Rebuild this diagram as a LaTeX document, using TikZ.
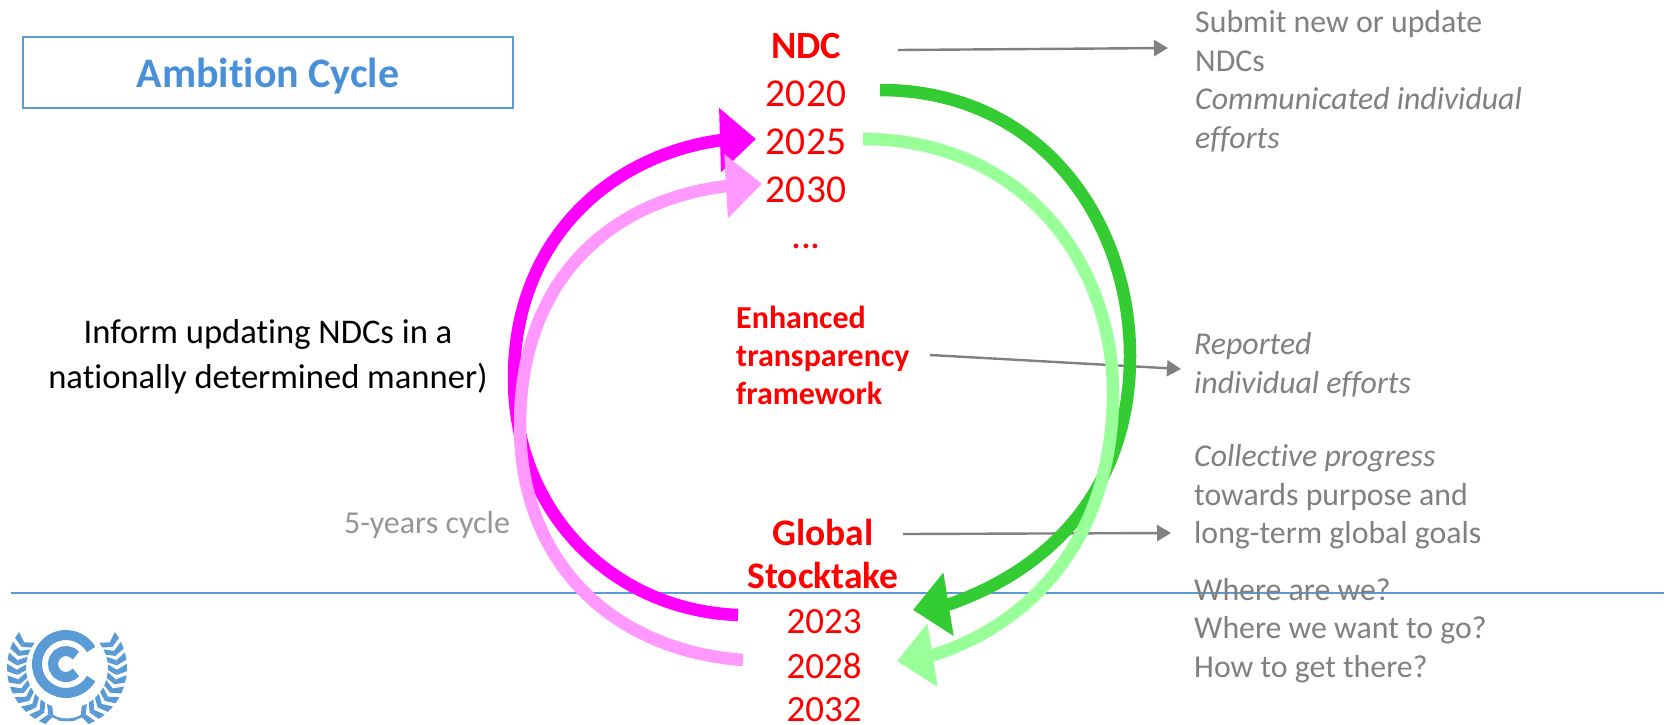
\documentclass[tikz,border=0pt]{standalone}
\usepackage{fontspec}
\setmainfont{Carlito}[RawFeature=-liga]
\usetikzlibrary{arrows.meta}
\definecolor{unblue}{HTML}{5B9BD5}
\definecolor{titleblue}{HTML}{4A90D9}
\definecolor{txtgrey}{HTML}{808080}
\definecolor{cyclegrey}{HTML}{969696}
\definecolor{ringmag}{HTML}{FF00FF}
\definecolor{ringpink}{HTML}{FF99FF}
\definecolor{ringgreen}{HTML}{33CC33}
\definecolor{ringlime}{HTML}{99FF99}
\tikzset{
  x=1pt,y=-1pt,
  yeartext/.style={text=red,inner sep=0pt,font=\fontsize{39.5}{46}\selectfont},
  lowyear/.style={text=red,inner sep=0pt,font=\fontsize{37}{44}\selectfont},
  headtext/.style={text=red,inner sep=0pt,font=\fontsize{38.5}{44}\selectfont\bfseries},
  lowhead/.style={text=red,inner sep=0pt,font=\fontsize{37.5}{44}\selectfont\bfseries},
  etftext/.style={text=red,inner sep=0pt,align=left,anchor=west,font=\fontsize{32}{38}\selectfont\bfseries},
  notetext/.style={text=txtgrey,inner sep=0pt,align=left,anchor=west,font=\fontsize{31.8}{38.5}\selectfont},
  ringarrow/.style={line width=12.5pt,line cap=butt,-{Triangle[length=36pt,width=62pt]}},
  notearrow/.style={draw=txtgrey,line width=2.4pt,-{Triangle[length=14pt,width=16pt]}},
}
\begin{document}
\begin{tikzpicture}
\useasboundingbox (0,0) rectangle (1667,724);
\fill[white] (0,0) rectangle (1667,724);
% rule
\coordinate (ruleL) at (11,593); \coordinate (ruleR) at (1664,593);
\draw[unblue,line width=2pt] (ruleL) -- (ruleR);
% title
\node[draw=unblue,line width=1.8pt,minimum width=490pt,minimum height=71pt,inner sep=0pt,text=titleblue,font=\fontsize{42}{50}\selectfont\bfseries] (title) at (268,72.5) {\raisebox{-14.5pt}[0pt][0pt]{Ambition Cycle}};
% central text
\node[headtext] (ndc) at (806,46) {NDC};
\node[yeartext] (y20) at (806,94) {2020};
\node[yeartext] (y25) at (806,142) {2025};
\node[yeartext] (y30) at (806,190) {2030};
\node[yeartext] (dots) at (806,246) {...};
\node[etftext] (etf) at (736,355) {Enhanced\\transparency\\framework};
\node[lowhead] (gst) at (823,532) {Global};
\node[lowhead] (stock) at (823,575) {Stocktake};
\node[lowyear] (y23) at (824,622) {2023};
\node[lowyear] (y28) at (824,666) {2028};
\node[lowyear] (y32) at (824,710) {2032};
% side text
\node[text=black,inner sep=0pt,align=center,font=\fontsize{34.6}{45}\selectfont] (inform) at (268,357) {Inform updating NDCs in a\\nationally determined manner)};
\node[text=cyclegrey,inner sep=0pt,font=\fontsize{32}{38}\selectfont] (cycle) at (427,525) {5-years cycle};
\node[notetext] (n1) at (1195,81.5) {Submit new or update\\NDCs\\\textit{Communicated individual}\\\textit{efforts}};
\node[notetext] (n2) at (1194,365) {\textit{Reported}\\\textit{individual efforts}};
\node[notetext] (n3) at (1194,497) {\textit{Collective progress}\\towards purpose and\\long-term global goals};
\node[notetext] (n4) at (1194,630.5) {Where are we?\\Where we want to go?\\How to get there?};
% note arrows
\coordinate (a1s) at (898,50); \coordinate (a1e) at (1168,48);
\coordinate (a2s) at (930,355); \coordinate (a2e) at (1181,369);
\coordinate (a3s) at (903,534); \coordinate (a3e) at (1171,533);
\draw[notearrow] (a1s) -- (a1e);
\draw[notearrow] (a2s) -- (a2e);
\draw[notearrow] (a3s) -- (a3e);
% ring arrows
\coordinate (gs) at (880,90); \coordinate (gm) at (1130,356); \coordinate (gb) at (950,604); \coordinate (gt) at (913,610);
\coordinate (ls) at (863,139); \coordinate (lm) at (1113,393); \coordinate (lb) at (934,655); \coordinate (lt) at (897,661);
\coordinate (ms) at (738,615); \coordinate (mm) at (514,378); \coordinate (mb) at (722,140); \coordinate (mt) at (756,139);
\coordinate (ps) at (743,660); \coordinate (pm) at (520,425); \coordinate (pb) at (727,186); \coordinate (pt) at (762,184);
\draw[ringarrow,ringmag] (ms) .. controls (610,610) and (514,510) .. (mm) .. controls (514,240) and (610,155) .. (mb) -- (mt);
\draw[ringarrow,ringgreen] (gs) .. controls (1040,90) and (1130,220) .. (gm) .. controls (1130,480) and (1060,565) .. (gb) -- (gt);
\draw[ringarrow,ringpink] (ps) .. controls (610,650) and (520,560) .. (pm) .. controls (520,280) and (610,200) .. (pb) -- (pt);
\draw[ringarrow,ringlime] (ls) .. controls (1020,139) and (1113,260) .. (lm) .. controls (1113,530) and (1040,620) .. (lb) -- (lt);
% logo
\begin{scope}[shift={(67,668)},y=1pt]
  \foreach \s in {1,-1}{
    \begin{scope}[xscale=\s]
      \foreach \a in {-70,-59,...,38}{
        \fill[unblue] (\a-4:50) -- (\a+1:60) -- (\a+8:60) -- (\a+2:50) -- cycle;
        \fill[unblue] (\a-4:50) -- (\a+1:41) -- (\a+9:41) -- (\a+2:50) -- cycle;
      }
      \draw[unblue,line width=2.5pt] (-72:50) .. controls (-80:52) and (-88:53) .. (-100:52);
    \end{scope}
  }
\end{scope}
\begin{scope}[shift={(66,664)},y=1pt]
  \draw[unblue,line width=10pt] (30:29) arc[start angle=30,end angle=330,radius=29];
  \draw[unblue,line width=10pt] (40:13) arc[start angle=40,end angle=320,radius=13];
\end{scope}
\end{tikzpicture}
\end{document}
